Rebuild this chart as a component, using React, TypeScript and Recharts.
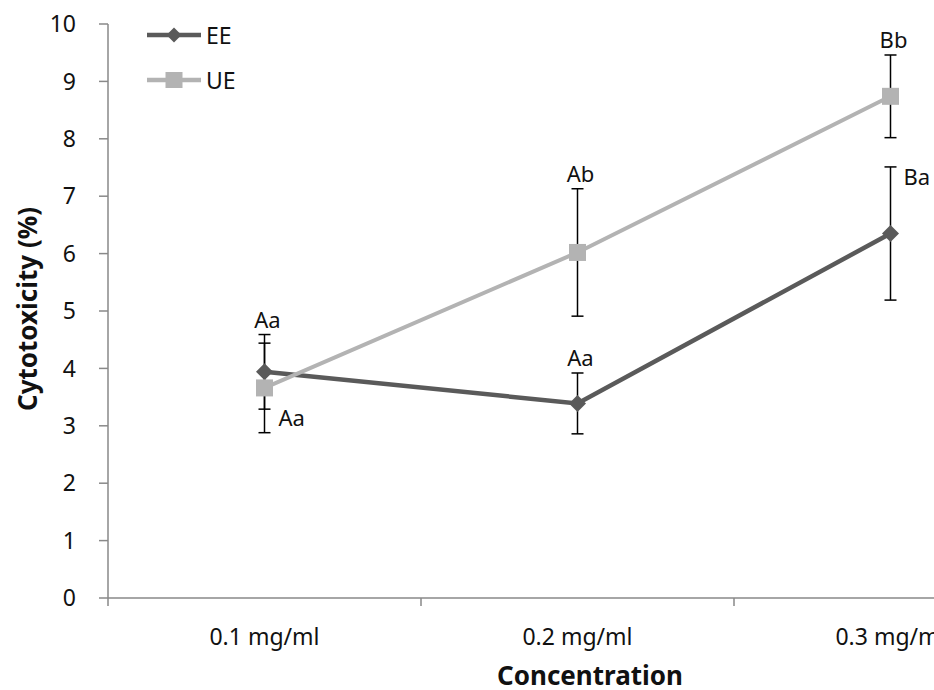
import React from 'react';
import { LineChart, Line, XAxis, YAxis, ErrorBar, Legend } from 'recharts';

const categories = ['0.1 mg/ml', '0.2 mg/ml', '0.3 mg/ml'];
const eeValues = [3.94, 3.39, 6.35];
const eeErrors = [0.65, 0.53, 1.16];
const ueValues = [3.66, 6.02, 8.74];
const ueErrors = [0.78, 1.11, 0.72];
const eeLetters = ['Aa', 'Aa', 'Ba'];
const ueLetters = ['Aa', 'Ab', 'Bb'];
const yTicks = [0, 1, 2, 3, 4, 5, 6, 7, 8, 9, 10];
const xTicks = [0, 0.5, 1, 1.5, 2, 2.5, 3];

const FONT = '"Noto Sans", "DejaVu Sans", sans-serif';
const EE_COLOR = '#5a5a5a';
const UE_COLOR = '#b3b3b3';
const AXIS_COLOR = '#898989';

// label placement relative to the error bar (style, not data)
const eePlace = ['above', 'above', 'rightTop'];
const uePlace = ['rightBottom', 'above', 'above'];

const data = categories.map((c, i) => ({
  x: i + 0.5,
  name: c,
  ee: eeValues[i],
  eeErr: eeErrors[i],
  ue: ueValues[i],
  ueErr: ueErrors[i],
  eeAnchor: eePlace[i] === 'rightBottom' ? eeValues[i] - eeErrors[i] : eeValues[i] + eeErrors[i],
  ueAnchor: uePlace[i] === 'rightBottom' ? ueValues[i] - ueErrors[i] : ueValues[i] + ueErrors[i],
}));

const makeLetterDot = (letters: string[], place: string[], prefix: string) => (p: any) => {
  const { cx, cy, index } = p;
  const pl = place[index];
  let x = cx + 3;
  let y = cy - 7;
  let anchor: 'middle' | 'start' = 'middle';
  if (pl === 'rightTop') {
    x = cx + 13;
    y = cy + 18;
    anchor = 'start';
  } else if (pl === 'rightBottom') {
    x = cx + 14;
    y = cy - 7;
    anchor = 'start';
  }
  return (
    <text key={`${prefix}-${index}`} x={x} y={y} textAnchor={anchor} fontSize={22} fontFamily={FONT} fill="#111">
      {letters[index]}
    </text>
  );
};

const eeDot = (p: any) => {
  const { cx, cy, index } = p;
  const h = 8.5;
  return (
    <polygon
      key={`eed-${index}`}
      points={`${cx},${cy - h} ${cx + h},${cy} ${cx},${cy + h} ${cx - h},${cy}`}
      fill={EE_COLOR}
    />
  );
};

const ueDot = (p: any) => {
  const { cx, cy, index } = p;
  const s = 17;
  return <rect key={`ued-${index}`} x={cx - s / 2} y={cy - s / 2} width={s} height={s} fill={UE_COLOR} />;
};

const XTick = (p: any) => {
  const { x, y, payload } = p;
  const v = payload.value;
  if (Number.isInteger(v)) {
    return <line x1={x} x2={x} y1={y} y2={y + 8} stroke={AXIS_COLOR} strokeWidth={1.5} />;
  }
  return (
    <text x={x} y={y + 47} textAnchor="middle" fontSize={23} fontFamily={FONT} fill="#111">
      {categories[Math.floor(v)]}
    </text>
  );
};

const legendItems = [
  { name: 'EE', color: EE_COLOR, shape: 'diamond' },
  { name: 'UE', color: UE_COLOR, shape: 'square' },
];

const renderLegend = () => (
  <div style={{ position: 'relative', fontFamily: FONT, fontSize: 23, color: '#111' }}>
    {legendItems.map((it, i) => (
      <div
        key={it.name}
        style={{ position: 'absolute', left: 0, top: i * 45, display: 'flex', alignItems: 'center', height: 20 }}
      >
        <svg width={54} height={20} style={{ display: 'block' }}>
          <line x1={0} x2={54} y1={10} y2={10} stroke={it.color} strokeWidth={4.5} />
          {it.shape === 'diamond' ? (
            <polygon points="27,2.5 34.5,10 27,17.5 19.5,10" fill={it.color} />
          ) : (
            <rect x={18.5} y={2} width={17} height={16} fill={it.color} />
          )}
        </svg>
        <span style={{ marginLeft: 5, lineHeight: '20px' }}>{it.name}</span>
      </div>
    ))}
  </div>
);

const yTitle = () => (
  <text
    x={19}
    y={301}
    transform="rotate(-90 19 301)"
    textAnchor="middle"
    dominantBaseline="central"
    fontSize={26}
    fontWeight="bold"
    fontFamily={FONT}
    fill="#111"
  >
    Cytotoxicity (%)
  </text>
);

const xTitle = () => (
  <text x={582} y={677} textAnchor="middle" fontSize={26} fontWeight="bold" fontFamily={FONT} fill="#111">
    Concentration
  </text>
);

export default function App() {
  return (
    <div
      style={{
        position: 'absolute',
        left: 8,
        top: 8,
        width: 926,
        height: 682,
        overflow: 'hidden',
        background: '#fff',
      }}
    >
      <LineChart width={1070} height={690} data={data} margin={{ top: 16, right: 31, bottom: 40, left: 30 }}>
        <XAxis
          dataKey="x"
          type="number"
          domain={[0, 3]}
          ticks={xTicks}
          interval={0}
          allowDataOverflow
          height={60}
          tickSize={0}
          tickMargin={0}
          tickLine={false}
          axisLine={{ stroke: AXIS_COLOR, strokeWidth: 1.5 }}
          tick={<XTick />}
          label={xTitle}
        />
        <YAxis
          domain={[0, 10]}
          ticks={yTicks}
          interval={0}
          width={70}
          tickSize={9}
          tickMargin={23}
          axisLine={{ stroke: AXIS_COLOR, strokeWidth: 1.5 }}
          tickLine={{ stroke: AXIS_COLOR, strokeWidth: 1.5 }}
          tick={{ fontSize: 23, fill: '#111', fontFamily: FONT }}
          label={yTitle}
        />
        <Legend
          layout="vertical"
          align="center"
          verticalAlign="middle"
          wrapperStyle={{ position: 'absolute', left: 139, top: 17, width: 120, height: 80 }}
          content={renderLegend}
        />
        <Line
          dataKey="ee"
          name="EE"
          stroke={EE_COLOR}
          strokeWidth={4.5}
          dot={eeDot}
          activeDot={false}
          isAnimationActive={false}
        >
          <ErrorBar dataKey="eeErr" direction="y" width={6} stroke="#000" strokeWidth={1.5} />
        </Line>
        <Line
          dataKey="ue"
          name="UE"
          stroke={UE_COLOR}
          strokeWidth={4}
          dot={ueDot}
          activeDot={false}
          isAnimationActive={false}
        >
          <ErrorBar dataKey="ueErr" direction="y" width={6} stroke="#000" strokeWidth={1.5} />
        </Line>
        <Line
          dataKey="eeAnchor"
          stroke="none"
          legendType="none"
          dot={makeLetterDot(eeLetters, eePlace, 'eel')}
          activeDot={false}
          isAnimationActive={false}
        />
        <Line
          dataKey="ueAnchor"
          stroke="none"
          legendType="none"
          dot={makeLetterDot(ueLetters, uePlace, 'uel')}
          activeDot={false}
          isAnimationActive={false}
        />
      </LineChart>
    </div>
  );
}
